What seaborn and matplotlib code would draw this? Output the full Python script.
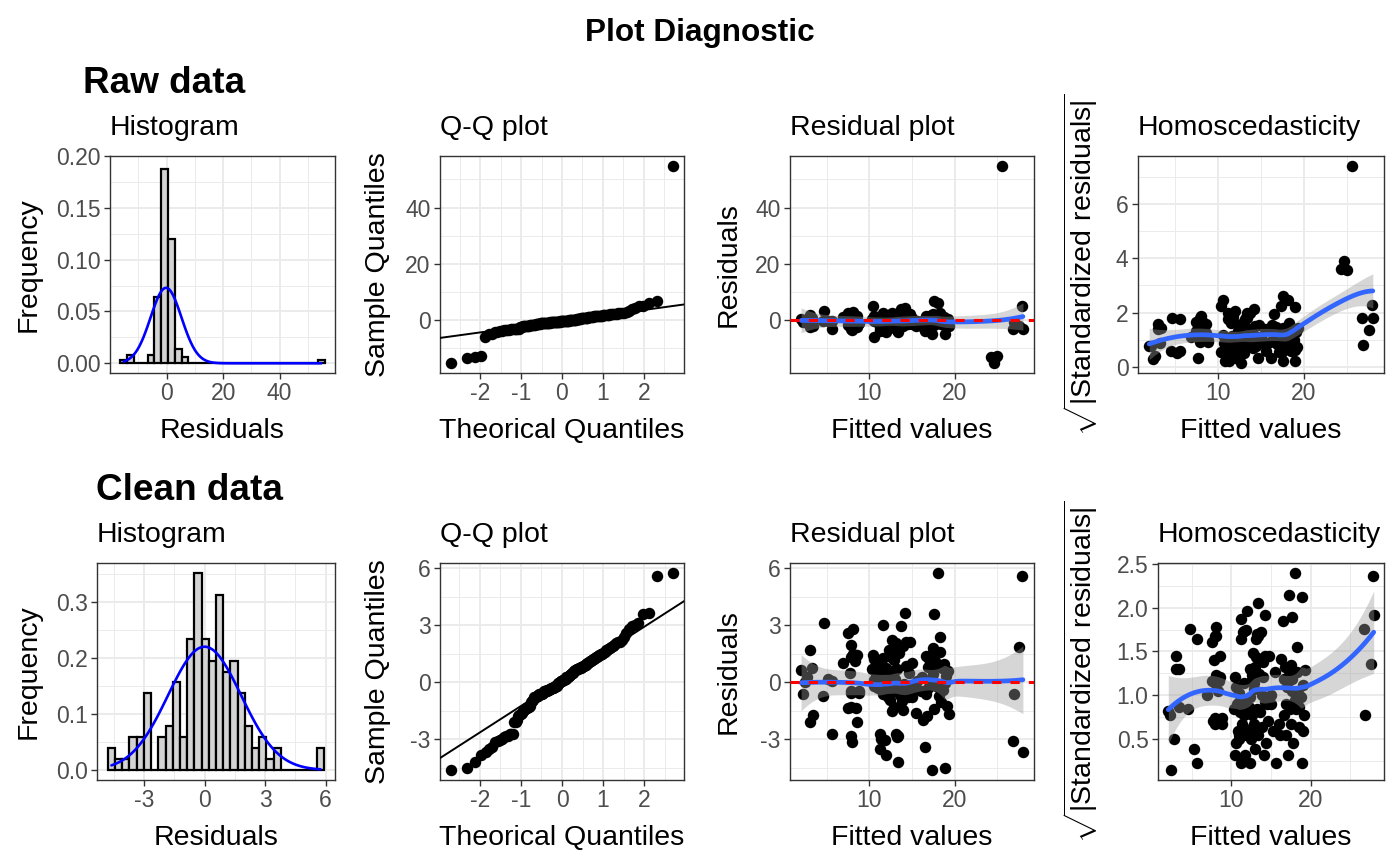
"""Regression diagnostic panels (raw vs clean data) redrawn with seaborn."""

from statistics import NormalDist

import matplotlib
matplotlib.use("Agg")
import matplotlib.pyplot as plt
import numpy as np
import pandas as pd
import seaborn as sns
from matplotlib.ticker import AutoMinorLocator

# ---- data ------------------------------------------------------------------
fitted = [
    17.3, 18.9, 13.35, 12.0, 28.0, 11.2, 16.5, 8.0, 26.8, 11.8,
    11.4, 7.9, 13.4, 13.1, 11.2, 13.2, 5.6, 3.0, 8.6, 16.3,
    3.4, 15.45, 19.3, 16.8, 7.5, 8.4, 19.1, 17.6, 7.9, 14.0,
    12.6, 12.9, 18.4, 13.8, 12.4, 2.2, 4.55, 26.9, 18.2, 7.9,
    8.8, 15.0, 12.2, 11.6, 13.6, 14.5, 16.6, 7.9, 8.8, 11.0,
    11.5, 10.6, 12.0, 12.5, 12.8, 13.3, 13.9, 14.4, 15.2, 16.0,
    16.9, 17.8, 18.6, 10.9, 11.8, 5.2, 5.6, 2.4, 10.5, 11.2,
    11.7, 12.3, 13.0, 14.1, 15.6, 17.1, 18.9, 7.7, 10.8, 11.3,
    12.1, 12.7, 2.7, 14.6, 16.2, 17.5, 19.0, 2.0, 3.3, 14.3,
    10.3, 10.7, 11.1, 11.4, 12.0, 12.6, 13.2, 16.9, 17.4, 18.0,
    18.5, 19.2, 10.9, 6.9, 8.3, 10.6, 11.0, 12.9, 15.0, 17.0,
    17.7, 18.8, 7.9, 8.05, 8.6, 10.4, 11.6, 13.5, 16.6, 18.3,
    17.3, 12.5, 3.0, 7.8, 12.3, 27.6, 17.5, 13.0, 14.0, 13.1,
    14.3, 14.75, 12.7, 7.5, 18.25, 8.1, 11.55, 13.7, 4.7, 14.2,
    17.6, 27.9, 18.1,
]
resid_clean = [
    -4.62, -4.50, -4.2, -3.85, -3.65, -3.5, -3.4, -3.15, -3.1, -3.05,
    -2.98, -2.8, -2.8, -2.7, -2.7, -2.9, -2.7, -2.1, -2.1, -2.0,
    -1.7, -1.6, -1.65, -1.75, -1.35, -1.35, -1.25, -1.4, -1.3, -1.45,
    -1.5, -1.3, -1.05, -1.0, -0.95, -0.6, -0.7, -0.6, -0.7, -0.55,
    -0.55, -0.8, -0.75, -0.6, -0.65, -0.8, -0.6, -0.45, -0.45, -0.3,
    -0.4, -0.2, -0.35, -0.25, -0.45, -0.3, -0.4, -0.2, -0.35, -0.45,
    -0.3, -0.2, -0.4, -0.25, -0.3, 0.15, 0.05, 0.02, 0.1, -0.05,
    0.1, 0.05, 0.15, -0.1, 0.05, 0.1, -0.05, 0.5, 0.35, 0.45,
    0.3, 0.4, 0.25, 0.5, 0.3, 0.45, 0.35, 0.66, 0.75, 0.85,
    0.7, 0.8, 0.65, 0.9, 0.75, 0.6, 0.7, 0.8, 0.7, 0.9,
    0.75, 0.6, 0.85, 1.0, 1.1, 1.2, 1.05, 1.15, 1.0, 1.2,
    1.1, 0.95, 1.35, 1.5, 1.45, 1.45, 1.3, 1.55, 1.4, 1.6,
    1.5, 1.35, 1.7, 1.95, 1.7, 1.85, 1.8, 1.75, 1.9, 2.05,
    2.1, 2.1, 2.2, 2.6, 2.4, 2.8, 3.0, 2.95, 3.1, 3.65,
    3.6, 5.6, 5.75,
]
resid_raw = [
    -5.0, -4.9, -4.0, -4.2, -3.24, -3.9, -3.8, -3.5, -3.24, -3.4,
    -3.4, -3.2, -3.2, -3.1, -3.1, -3.3, -3.1, -2.5, -2.5, -2.4,
    -2.1, -2.0, -2.05, -2.15, -1.75, -1.75, -1.65, -1.8, -1.7, -1.85,
    -2.0, -1.7, -1.45, -1.4, -1.35, -0.6, -0.35, -0.64, -1.1, -0.95,
    -0.95, -1.2, -1.15, -1.0, -1.05, -1.2, -1.0, -0.85, -0.85, -0.7,
    -0.8, -6.1, -0.75, -0.65, -0.85, -0.7, -0.8, -0.6, -0.75, -0.85,
    -0.7, -0.6, -0.8, -0.65, -0.7, -0.25, -0.35, 0.08, -0.3, -0.45,
    -0.3, -0.4, -0.25, -0.5, -0.35, -0.3, -0.4, 0.1, -0.05, 0.05,
    -0.1, 0.02, -0.15, 0.1, -0.1, 0.05, -0.05, 0.62, 0.8, 0.85,
    0.3, 0.8, 0.25, 0.9, 0.7, 0.2, 0.6, 0.8, 0.3, 0.9,
    0.35, 0.55, 0.9, 1.2, 1.3, 1.4, 1.0, 1.1, 0.9, 1.5,
    1.4, 1.0, 1.6, 1.7, 1.6, 5.1, 1.3, 1.6, 1.7, 1.9,
    1.8, 1.4, 2.0, 2.2, 1.8, -1.9, 2.1, 1.9, 2.0, 2.2,
    2.3, 2.4, 2.5, 2.7, 2.6, 2.85, 2.6, 4.0, 3.3, 4.5,
    6.8, 5.25, 6.1,
]
# observations dropped from the clean fit
outlier_fitted = [24.3, 24.6, 24.7, 25.0, 25.6]
outlier_resid = [-13.0, -15.2, -13.4, -12.8, 54.8]

raw = pd.DataFrame({"fitted": fitted + outlier_fitted,
                    "resid": resid_raw + outlier_resid})
clean = pd.DataFrame({"fitted": fitted, "resid": resid_clean})

# ---- look ------------------------------------------------------------------
sns.set_theme(style="white")
plt.rcParams["font.family"] = ["Liberation Sans", "DejaVu Sans"]
plt.rcParams["mathtext.fontset"] = "custom"
plt.rcParams["mathtext.rm"] = "Liberation Sans"
plt.rcParams["axes.unicode_minus"] = False
plt.rcParams["xtick.bottom"] = True
plt.rcParams["ytick.left"] = True
plt.rcParams["text.color"] = "black"

W, H = 1400, 866
TITLE_FS = 20.5
TICK_FS = 16.5
GRID = "#EBEBEB"
DARK = "#333333"
POINT_S = 68

fig = plt.figure(figsize=(W / 100, H / 100), dpi=100)


def panel(x0, x1, y0, y1):
    return fig.add_axes([x0 / W, 1 - y1 / H, (x1 - x0) / W, (y1 - y0) / H])


def style(ax, xticks, yticks, ylabels=None, title=""):
    ax.set_facecolor("white")
    for sp in ax.spines.values():
        sp.set_visible(True)
        sp.set_color(DARK)
        sp.set_linewidth(1.0)
    ax.set_xticks(xticks, labels=[f"{t:g}" for t in xticks])
    ax.set_yticks(yticks, labels=ylabels or [f"{t:g}" for t in yticks])
    ax.xaxis.set_minor_locator(AutoMinorLocator(2))
    ax.yaxis.set_minor_locator(AutoMinorLocator(2))
    ax.grid(which="major", color=GRID, lw=1.4)
    ax.grid(which="minor", color=GRID, lw=0.7)
    ax.set_axisbelow(True)
    ax.tick_params(which="major", length=4.3, width=1.0, color=DARK,
                   labelsize=TICK_FS, labelcolor="#4D4D4D", pad=2.5)
    ax.tick_params(which="minor", length=0)
    ax.set_xlabel("")
    ax.set_ylabel("")
    ax.annotate(title, (0, 1), xycoords="axes fraction", xytext=(0, 15),
                textcoords="offset points", ha="left", va="baseline",
                fontsize=TITLE_FS, color="black")


def expand(lo, hi, frac=0.05):
    pad = (hi - lo) * frac
    return lo - pad, hi + pad


def loess(x, y, xnew, span=0.75):
    """Local quadratic fit with tricube weights plus a 95% band."""
    x = np.asarray(x, float)
    y = np.asarray(y, float)
    n = len(x)
    q = int(np.floor(n * span))

    def row(x0):
        d = np.abs(x - x0)
        h = np.sort(d)[q - 1]
        w = (1 - np.clip(d / h, 0, 1) ** 3) ** 3
        X = np.column_stack([np.ones(n), x - x0, (x - x0) ** 2])
        XtW = X.T * w
        return np.linalg.solve(XtW @ X, XtW)[0]

    L = np.array([row(v) for v in x])
    M = np.eye(n) - L
    MM = M.T @ M
    d1 = np.trace(MM)
    d2 = np.trace(MM @ MM)
    s = np.sqrt(np.sum((M @ y) ** 2) / d1)
    df = d1 ** 2 / d2
    Lnew = np.array([row(v) for v in xnew])
    fit = Lnew @ y
    se = s * np.sqrt(np.sum(Lnew ** 2, axis=1))
    z = 1.959964
    t = z + (z ** 3 + z) / (4 * df)
    return fit, fit - t * se, fit + t * se


def hist_panel(ax, r, xticks, yticks, ylabels):
    r = np.asarray(r, float)
    lo, hi = r.min(), r.max()
    w = (hi - lo) / 29
    edges = lo - w / 2 + w * np.arange(31)
    sns.histplot(x=r, bins=edges, stat="density", color="lightgrey",
                 edgecolor="black", linewidth=1.6, alpha=1, ax=ax)
    m, s = r.mean(), r.std(ddof=1)
    grid = np.linspace(lo, hi, 101)
    dens = np.exp(-0.5 * ((grid - m) / s) ** 2) / (s * np.sqrt(2 * np.pi))
    ax.plot(grid, dens, color="blue", lw=1.9, zorder=4)
    counts, _ = np.histogram(r, edges)
    top = max((counts / (len(r) * w)).max(), dens.max())
    ax.set_xlim(*expand(edges[0], edges[-1]))
    ax.set_ylim(*expand(0, top))
    style(ax, xticks, yticks, ylabels, "Histogram")


def qq_panel(ax, r, yticks):
    r = np.asarray(r, float)
    n = len(r)
    nd = NormalDist()
    theo = np.array([nd.inv_cdf((i - 0.5) / n) for i in range(1, n + 1)])
    samp = np.sort(r)
    sns.scatterplot(x=theo, y=samp, color="black", s=POINT_S, linewidth=0,
                    ax=ax, zorder=2)
    q1, q3 = np.quantile(r, [0.25, 0.75])
    t1, t3 = nd.inv_cdf(0.25), nd.inv_cdf(0.75)
    slope = (q3 - q1) / (t3 - t1)
    ax.axline((t1, q1), slope=slope, color="black", lw=1.4, zorder=3)
    ax.set_xlim(*expand(theo.min(), theo.max()))
    ax.set_ylim(*expand(samp.min(), samp.max()))
    style(ax, [-2, -1, 0, 1, 2], yticks, title="Q-Q plot")


def smooth_panel(ax, x, y, yticks, title, ylabels=None, hline=False):
    x = np.asarray(x, float)
    y = np.asarray(y, float)
    sns.scatterplot(x=x, y=y, color="black", s=POINT_S, linewidth=0,
                    ax=ax, zorder=2)
    grid = np.linspace(x.min(), x.max(), 80)
    fit, lo, hi = loess(x, y, grid)
    ax.fill_between(grid, lo, hi, color="#999999", alpha=0.4, lw=0, zorder=3)
    ax.plot(grid, fit, color="#3366FF", lw=3.4, zorder=4)
    if hline:
        ax.axhline(0, color="red", lw=2.2, ls=(0, (3, 3)), zorder=5)
    ax.set_xlim(*expand(x.min(), x.max()))
    ax.set_ylim(*expand(min(y.min(), lo.min()), max(y.max(), hi.max())))
    style(ax, [10, 20], yticks, ylabels, title=title)


def fig_text(x, y, s, **kw):
    fig.text(x / W, 1 - y / H, s, **kw)


SQRT_LABEL = r"$\sqrt{|\mathrm{Standardized\ residuals}|}$"

rows = [
    dict(df=raw, top=156, bottom=373, hist_left=110, homo_left=1138,
         hist_y=[0, 0.05, 0.10, 0.15, 0.20],
         hist_lab=["0.00", "0.05", "0.10", "0.15", "0.20"],
         hist_x=[0, 20, 40], qq_y=[0, 20, 40], res_y=[0, 20, 40],
         homo_y=[0, 2, 4, 6], homo_lab=None, xlab_base=438),
    dict(df=clean, top=563, bottom=780, hist_left=97, homo_left=1158,
         hist_y=[0, 0.1, 0.2, 0.3], hist_lab=["0.0", "0.1", "0.2", "0.3"],
         hist_x=[-3, 0, 3, 6], qq_y=[-3, 0, 3, 6], res_y=[-3, 0, 3, 6],
         homo_y=[0.5, 1.0, 1.5, 2.0, 2.5],
         homo_lab=["0.5", "1.0", "1.5", "2.0", "2.5"], xlab_base=845),
]

for row in rows:
    df = row["df"]
    t, b = row["top"], row["bottom"]
    ax_h = panel(row["hist_left"], 335, t, b)
    ax_q = panel(440, 684, t, b)
    ax_r = panel(790, 1034, t, b)
    ax_s = panel(row["homo_left"], 1384, t, b)

    hist_panel(ax_h, df["resid"], row["hist_x"], row["hist_y"], row["hist_lab"])
    qq_panel(ax_q, df["resid"], row["qq_y"])
    smooth_panel(ax_r, df["fitted"], df["resid"], row["res_y"],
                 "Residual plot", hline=True)
    smooth_panel(ax_s, df["fitted"], np.sqrt(np.abs(df["resid"])),
                 row["homo_y"], "Homoscedasticity", row["homo_lab"])

    yc = (t + b) / 2
    for x_base, lab in [(36, "Frequency"), (385, "Sample Quantiles"),
                        (736, "Residuals"), (1092, SQRT_LABEL)]:
        fig_text(x_base, yc, lab, rotation=90, rotation_mode="anchor",
                 ha="center", va="baseline", fontsize=TITLE_FS)
    for ax, lab in [(ax_h, "Residuals"), (ax_q, "Theorical Quantiles"),
                    (ax_r, "Fitted values"), (ax_s, "Fitted values")]:
        pos = ax.get_position()
        fig.text((pos.x0 + pos.x1) / 2, 1 - row["xlab_base"] / H, lab,
                 ha="center", va="baseline", fontsize=TITLE_FS)

fig_text(700, 41, "Plot Diagnostic", ha="center", va="baseline",
         fontsize=22.7, fontweight="bold")
fig_text(83, 93, "Raw data", ha="left", va="baseline",
         fontsize=26.6, fontweight="bold")
fig_text(96, 500, "Clean data", ha="left", va="baseline",
         fontsize=26.6, fontweight="bold")

fig.savefig("out.png", dpi=100, facecolor="white")
